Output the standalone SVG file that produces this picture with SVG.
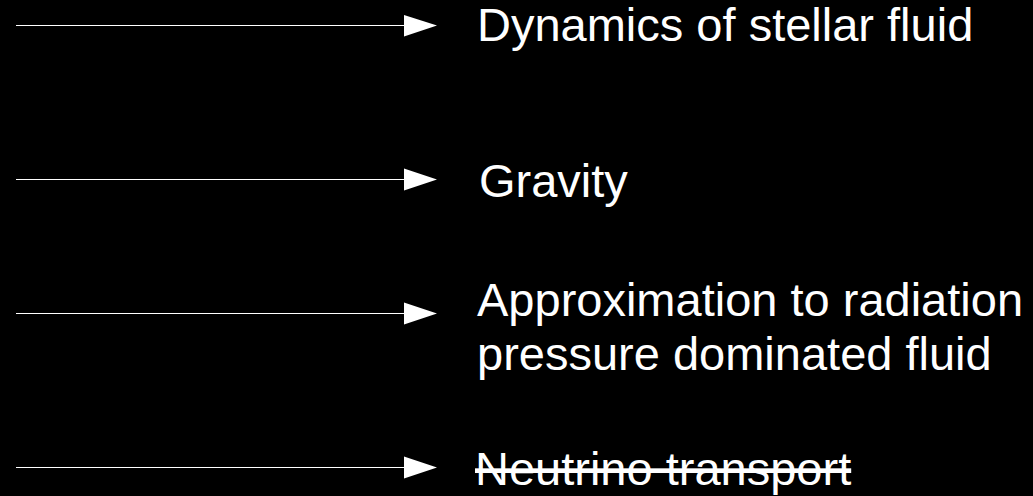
<svg xmlns="http://www.w3.org/2000/svg" width="1033" height="496" viewBox="0 0 1033 496">
<style>
.lbl{font-family:"Liberation Sans",Arial,sans-serif;font-size:47px;fill:#fff}
.conn{stroke:#fff;stroke-width:1.2;fill:none}
.head{fill:#fff}
</style>
<rect width="1033" height="496" fill="#000"/>
<g id="connectors">
<line class="conn" x1="16" y1="25.5" x2="405" y2="25.5"/>
<polygon class="head" points="404,15 437,25.5 404,36.5"/>
<line class="conn" x1="16" y1="179.5" x2="405" y2="179.5"/>
<polygon class="head" points="404,168.5 437,179.5 404,190.5"/>
<line class="conn" x1="16" y1="313.5" x2="405" y2="313.5"/>
<polygon class="head" points="404,302.5 437,313.5 404,324.5"/>
<line class="conn" x1="16" y1="467.5" x2="405" y2="467.5"/>
<polygon class="head" points="404,456.5 437,467.5 404,478.5"/>
</g>
<g id="node-dynamics"><text class="lbl" x="477" y="41">Dynamics of stellar fluid</text></g>
<g id="node-gravity"><text class="lbl" x="479" y="197">Gravity</text></g>
<g id="node-approx"><text class="lbl" x="477" y="316">Approximation to radiation</text><text class="lbl" x="477" y="370">pressure dominated fluid</text></g>
<g id="node-neutrino"><text class="lbl" x="475" y="485" text-decoration="line-through">Neutrino transport</text></g>
</svg>
